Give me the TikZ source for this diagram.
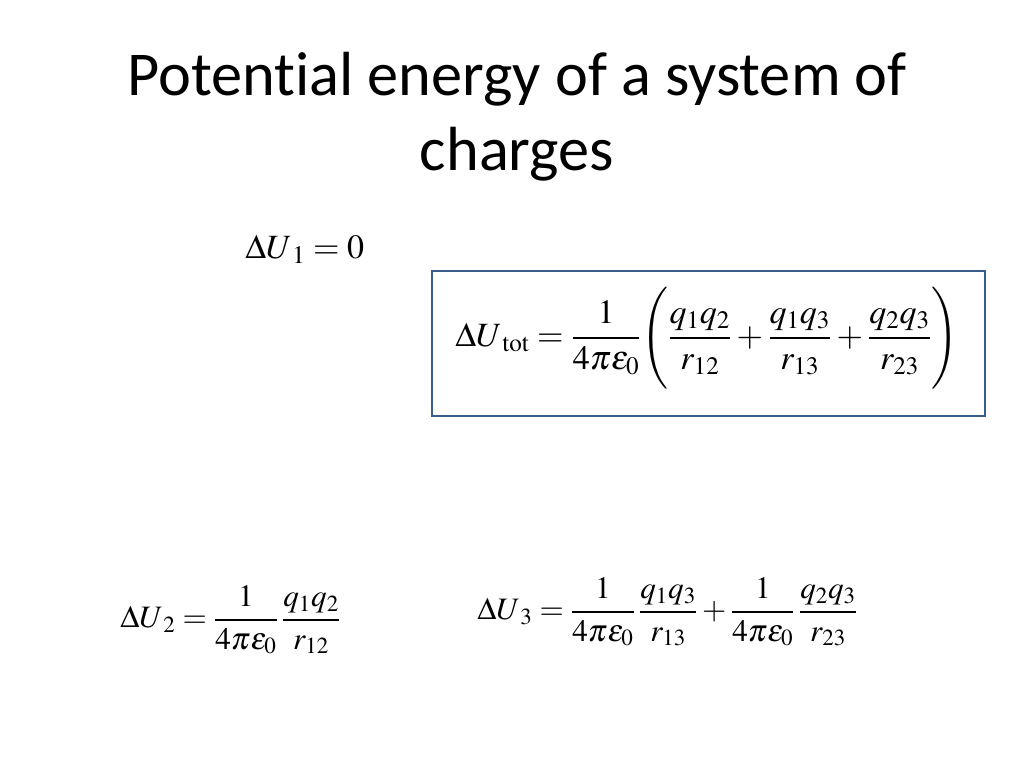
\documentclass[tikz,border=0pt]{standalone}
\usepackage{amsmath}
\usepackage{mathptmx}
\usepackage[no-math]{fontspec}
\newfontfamily\titlefont[Ligatures={NoCommon}]{Carlito}
\usepackage{tikz}
\definecolor{boxblue}{HTML}{385D8A}
\tikzset{
  eqbig/.style={inner sep=0pt, font=\fontsize{24}{28}\selectfont},
  eqsmall/.style={inner sep=0pt, font=\fontsize{22}{26}\selectfont},
}
% subscripts set off a bit from U
\newcommand{\lsub}[1]{_{\mkern3mu#1}}

\begin{document}
\begin{tikzpicture}[x=0.0248046875cm,y=-0.0248046875cm]

 \useasboundingbox (0,0) rectangle (1024,768); % slide frame

 % Title
 \node[align=center, font=\titlefont\fontsize{44}{53}\selectfont] (title) at (517,117)
   {Potential energy of a system of\\charges};

 % First charge brought in
 \node[eqbig, anchor=west] (du1) at (245,249) {$\Delta U\lsub{1} = 0$};

 % Total, boxed
 \draw[boxblue, line width=2pt] (432,271) rectangle (985,416);
 \node[eqbig, anchor=west] (dutot) at (455,338)
   {$\Delta U\lsub{\mathrm{tot}} = \dfrac{1}{4\pi\varepsilon_0}
     \Biggl( \dfrac{q_1q_2}{r_{12}} + \dfrac{q_1q_3}{r_{13}} + \dfrac{q_2q_3}{r_{23}} \Biggr)$};

 % Second and third charge
 \node[eqsmall, anchor=west] (du2) at (120,620)
   {$\Delta U\lsub{2} = \dfrac{1}{4\pi\varepsilon_0}\,\dfrac{q_1q_2}{r_{12}}$};
 \node[eqsmall, anchor=west] (du3) at (477,612)
   {$\Delta U\lsub{3} = \dfrac{1}{4\pi\varepsilon_0}\,\dfrac{q_1q_3}{r_{13}}
     + \dfrac{1}{4\pi\varepsilon_0}\,\dfrac{q_2q_3}{r_{23}}$};

\end{tikzpicture}
\end{document}
